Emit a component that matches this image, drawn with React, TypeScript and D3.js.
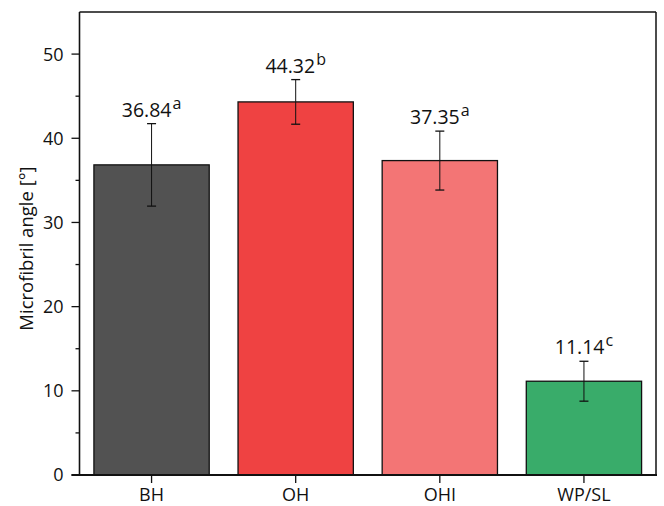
import React, { useEffect, useRef } from "react";
import * as d3 from "d3";

const categories = ["BH", "OH", "OHI", "WP/SL"];
const means = [36.84, 44.32, 37.35, 11.14];
const errors = [4.9, 2.65, 3.5, 2.37];
const letters = ["a", "b", "a", "c"];
const colors = ["#525252", "#EF4242", "#F37575", "#39AC6A"];
const yTicks = [0, 10, 20, 30, 40, 50];
const yMinorTicks = [5, 15, 25, 35, 45];

const W = 664;
const H = 506;
const margin = { left: 79.5, right: 8, top: 12, bottom: 31 };
const FONT = "'Open Sans', 'Noto Sans', sans-serif";

export default function App() {
  const ref = useRef<SVGSVGElement>(null);

  useEffect(() => {
    const svg = d3.select(ref.current);
    svg.selectAll("*").remove();

    const x0 = margin.left;
    const x1 = W - margin.right;
    const y0 = H - margin.bottom;
    const y1 = margin.top;

    const x = d3.scaleBand<string>().domain(categories).range([x0, x1]).paddingInner(0.2).paddingOuter(0.1);
    const y = d3.scaleLinear().domain([0, 55]).range([y0, y1]);

    const g = svg.append("g");

    // bars
    g.selectAll("rect.bar")
      .data(categories)
      .join("rect")
      .attr("class", "bar")
      .attr("x", (d) => x(d)!)
      .attr("width", x.bandwidth())
      .attr("y", (_, i) => y(means[i]))
      .attr("height", (_, i) => y(0) - y(means[i]))
      .attr("fill", (_, i) => colors[i])
      .attr("stroke", "#111")
      .attr("stroke-width", 1.3);

    // error bars
    const cx = (d: string) => x(d)! + x.bandwidth() / 2;
    const eb = g.selectAll("g.err").data(categories).join("g").attr("class", "err");
    eb.append("line")
      .attr("x1", cx).attr("x2", cx)
      .attr("y1", (_, i) => y(means[i] + errors[i]))
      .attr("y2", (_, i) => y(means[i] - errors[i]))
      .attr("stroke", "#111").attr("stroke-width", 1);
    [1, -1].forEach((s) => {
      eb.append("line")
        .attr("x1", (d) => cx(d) - 4.5).attr("x2", (d) => cx(d) + 4.5)
        .attr("y1", (_, i) => y(means[i] + s * errors[i]))
        .attr("y2", (_, i) => y(means[i] + s * errors[i]))
        .attr("stroke", "#111").attr("stroke-width", 1.3);
    });

    // value labels with superscript letters
    const lbl = g.selectAll("text.val").data(categories).join("text")
      .attr("class", "val")
      .attr("x", cx)
      .attr("y", (_, i) => y(means[i] + errors[i]) - 7)
      .attr("text-anchor", "middle")
      .attr("font-family", FONT)
      .attr("font-size", 19.5)
      .attr("fill", "#111");
    lbl.append("tspan").text((_, i) => means[i].toFixed(2));
    lbl.append("tspan")
      .attr("dx", 1)
      .attr("dy", -8)
      .attr("font-size", 16)
      .text((_, i) => letters[i]);

    // frame top and right
    g.append("line").attr("x1", x0).attr("x2", x1).attr("y1", y1).attr("y2", y1)
      .attr("stroke", "#111").attr("stroke-width", 1.5);
    g.append("line").attr("x1", x1).attr("x2", x1).attr("y1", y1).attr("y2", y0)
      .attr("stroke", "#111").attr("stroke-width", 1.5);

    // y axis
    const ya = g.append("g").attr("transform", `translate(${x0},0)`);
    ya.append("line").attr("x1", 0).attr("x2", 0).attr("y1", y1).attr("y2", y0)
      .attr("stroke", "#111").attr("stroke-width", 1.6);
    ya.selectAll("line.maj").data(yTicks).join("line").attr("class", "maj")
      .attr("x1", -8).attr("x2", 0).attr("y1", (d) => y(d)).attr("y2", (d) => y(d))
      .attr("stroke", "#111").attr("stroke-width", 1.3);
    ya.selectAll("line.min").data(yMinorTicks).join("line").attr("class", "min")
      .attr("x1", -4).attr("x2", 0).attr("y1", (d) => y(d)).attr("y2", (d) => y(d))
      .attr("stroke", "#111").attr("stroke-width", 1.3);
    ya.selectAll("text").data(yTicks).join("text")
      .attr("x", -16).attr("y", (d) => y(d)).attr("dy", "0.36em")
      .attr("text-anchor", "end")
      .attr("font-family", FONT).attr("font-size", 18).attr("fill", "#111")
      .text((d) => d);

    // x axis
    const xa = g.append("g");
    xa.append("line").attr("x1", x0 - 8).attr("x2", x1 + 1).attr("y1", y0).attr("y2", y0)
      .attr("stroke", "#111").attr("stroke-width", 2);
    xa.selectAll("line.t").data(categories).join("line").attr("class", "t")
      .attr("x1", cx).attr("x2", cx).attr("y1", y0).attr("y2", y0 + 8)
      .attr("stroke", "#111").attr("stroke-width", 1.3);
    xa.selectAll("text").data(categories).join("text")
      .attr("x", cx).attr("y", y0 + 26)
      .attr("text-anchor", "middle")
      .attr("font-family", FONT).attr("font-size", 18).attr("fill", "#111")
      .text((d) => d);

    // y axis title
    g.append("text")
      .attr("transform", `translate(33,${(y0 + y1) / 2 + 5}) rotate(-90)`)
      .attr("text-anchor", "middle")
      .attr("font-family", FONT).attr("font-size", 18.5).attr("fill", "#111")
      .text("Microfibril angle [°]");
  }, []);

  return (
    <svg
      ref={ref}
      width={W}
      height={H}
      style={{ position: "absolute", left: 0, top: 0, background: "#fff" }}
    />
  );
}
